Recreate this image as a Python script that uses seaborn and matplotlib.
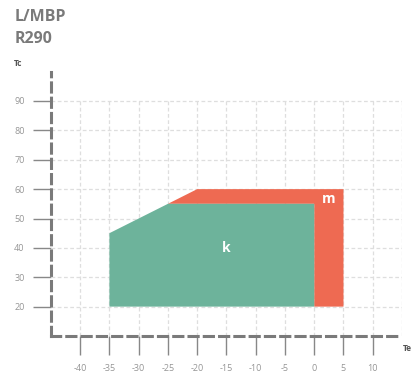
import matplotlib
matplotlib.use("Agg")
import matplotlib.pyplot as plt
import seaborn as sns

# Envelope data (Te, Tc)
k_te = [-35, -35, -25, 0, 0]
k_tc = [20, 45, 55, 55, 20]
m_te = [-25, -20, 5, 5, 0, 0]
m_tc = [55, 60, 60, 20, 20, 55]
x_ticks = [-40, -35, -30, -25, -20, -15, -10, -5, 0, 5, 10]
y_ticks = [20, 30, 40, 50, 60, 70, 80, 90]

sns.set_theme(style="white")
plt.rcParams["font.family"] = ["Open Sans", "DejaVu Sans"]
plt.rcParams["axes.unicode_minus"] = False

fig = plt.figure(figsize=(4.14, 3.75), dpi=100)
ax = fig.add_axes([0.123, 0.104, 0.848, 0.705])

green = "#6db39b"
orange = "#ee6a52"
gray = "#7a7a7a"

ax.fill(m_te, m_tc, color=orange, lw=0, zorder=2)
ax.fill(k_te, k_tc, color=green, lw=0, zorder=3)
ax.text(-15, 40, "k", color="white", fontsize=10, fontweight="bold",
        ha="center", va="center", zorder=4)
ax.text(2.5, 56.5, "m", color="white", fontsize=10, fontweight="bold",
        ha="center", va="center", zorder=4)

ax.set_xlim(-45, 15)
ax.set_ylim(10, 100)

# grid
for x in x_ticks + [15]:
    ax.plot([x, x], [10, 90], color="#dedede", lw=0.9, ls=(0, (3, 2)), zorder=1)
for y in y_ticks:
    ax.plot([-45, 15], [y, y], color="#dedede", lw=0.9, ls=(0, (3, 2)), zorder=1)

for s in ["top", "right"]:
    ax.spines[s].set_visible(False)
for s in ["left", "bottom"]:
    ax.spines[s].set_color(gray)
    ax.spines[s].set_linewidth(2.2)
    ax.spines[s].set_linestyle((0, (3, 2)))

ax.set_xticks(x_ticks)
ax.set_yticks(y_ticks)
ax.tick_params(axis="both", which="major", direction="out", length=14,
               width=1.0, color="#888888", labelsize=6.5, labelcolor="#959595", pad=6,
               left=True, bottom=True)
ax.tick_params(axis="y", length=13)

fig.text(0.036, 0.955, "L/MBP", fontsize=11.5, fontweight="bold", color=gray, va="center")
fig.text(0.036, 0.897, "R290", fontsize=11.5, fontweight="bold", color=gray, va="center")
fig.text(0.033, 0.83, "Tc", fontsize=6, fontweight="bold", color="#555555", va="center")
fig.text(0.972, 0.07, "Te", fontsize=6, fontweight="bold", color="#555555", va="center")

fig.savefig("out.png", dpi=100)
